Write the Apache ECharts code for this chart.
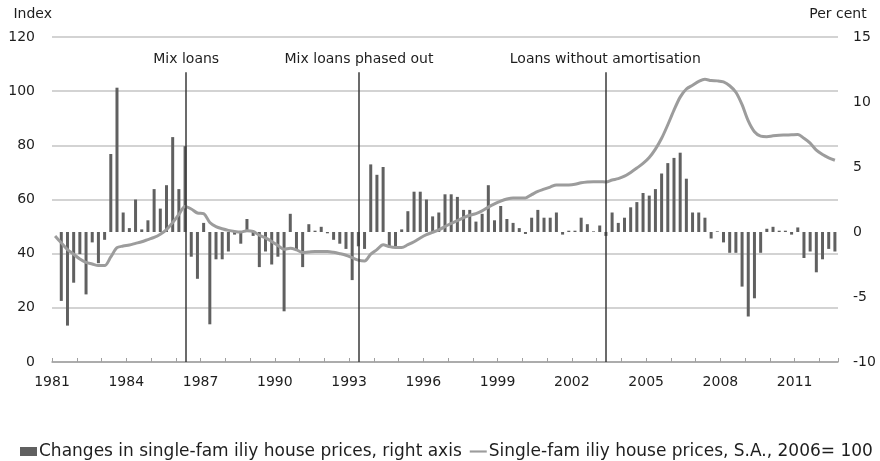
<!DOCTYPE html>
<html>
<head>
<meta charset="utf-8">
<style>
  html, body { margin: 0; padding: 0; background: #fff; }
  #chart { width: 880px; height: 461px; }
</style>
<script src="https://cdn.jsdelivr.net/npm/echarts@6/dist/echarts.min.js"></script>
</head>
<body>
<div id="chart"></div>
<script>
// quarterly data, 1981Q1 .. 2012Q3
const startYear = 1981
const quarterCount = 127
const quarters = []
for (let i = 0; i < quarterCount; i++) {
    quarters.push((startYear + Math.floor(i / 4)) + 'Q' + (i % 4 + 1))
}

// Single-family house prices, S.A., 2006 = 100 (left axis)
const priceIndex = [
    46.5, 44.0, 41.5, 39.8,   // 1981
    38.0, 36.8, 36.2, 35.6,   // 1982
    35.6, 38.8, 42.2, 42.8,   // 1983
    43.2, 43.8, 44.4, 45.2,   // 1984
    46.0, 47.2, 48.9, 51.5,   // 1985
    54.5, 57.4, 56.5, 55.0,   // 1986
    54.8, 51.5, 50.0, 49.2,   // 1987
    48.6, 48.2, 48.0, 48.5,   // 1988
    48.2, 46.8, 45.8, 44.5,   // 1989
    43.0, 41.6, 42.0, 41.4,   // 1990
    40.4, 40.6, 40.8, 40.8,   // 1991
    40.8, 40.5, 40.0, 39.4,   // 1992
    38.5, 37.6, 37.3, 39.8,   // 1993
    41.5, 43.3, 42.6, 42.3,   // 1994
    42.3, 43.3, 44.4, 45.8,   // 1995
    47.0, 47.9, 48.8, 50.0,   // 1996
    51.2, 52.2, 53.3, 54.2,   // 1997
    54.8, 55.8, 57.2, 58.4,   // 1998
    59.4, 60.2, 60.6, 60.6,   // 1999
    60.6, 61.8, 63.0, 63.8,   // 2000
    64.6, 65.4, 65.4, 65.4,   // 2001
    65.6, 66.2, 66.5, 66.6,   // 2002
    66.6, 66.5, 67.2, 67.7,   // 2003
    68.6, 70.0, 71.6, 73.3,   // 2004
    75.5, 78.6, 82.6, 87.6,   // 2005
    93.0, 97.8, 100.8, 102.2, // 2006
    103.6, 104.4, 103.9, 103.8, // 2007
    103.4, 102.0, 99.6, 95.0, // 2008
    89.0, 85.0, 83.4, 83.2,   // 2009
    83.5, 83.7, 83.8, 83.9,   // 2010
    84.0, 82.6, 80.8, 78.2,   // 2011
    76.6, 75.4, 74.5          // 2012
]

// Changes in single-family house prices, per cent (right axis)
const priceChange = [
    null, -5.3, -7.2, -3.9,   // 1981
    -1.7, -4.8, -0.8, -2.4,   // 1982
    -0.6, 6.0, 11.1, 1.5,     // 1983
    0.3, 2.5, 0.2, 0.9,       // 1984
    3.3, 1.8, 3.6, 7.3,       // 1985
    3.3, 6.6, -1.9, -3.6,     // 1986
    0.7, -7.1, -2.1, -2.1,    // 1987
    -1.5, -0.2, -0.9, 1.0,    // 1988
    -0.3, -2.7, -1.5, -2.5,   // 1989
    -1.9, -6.1, 1.4, -1.4,    // 1990
    -2.7, 0.6, 0.1, 0.4,      // 1991
    -0.1, -0.6, -0.9, -1.3,   // 1992
    -3.7, -1.1, -1.3, 5.2,    // 1993
    4.4, 5.0, -1.2, -1.2,     // 1994
    0.2, 1.6, 3.1, 3.1,       // 1995
    2.5, 1.2, 1.5, 2.9,       // 1996
    2.9, 2.7, 1.7, 1.7,       // 1997
    0.8, 1.4, 3.6, 0.9,       // 1998
    2.0, 1.0, 0.7, 0.3,       // 1999
    -0.15, 1.1, 1.7, 1.1,     // 2000
    1.1, 1.5, -0.2, 0.1,      // 2001
    0.1, 1.1, 0.6, 0.05,      // 2002
    0.5, -0.3, 1.5, 0.7,      // 2003
    1.1, 1.9, 2.3, 3.0,       // 2004
    2.8, 3.3, 4.5, 5.3,       // 2005
    5.7, 6.1, 4.1, 1.5,       // 2006
    1.5, 1.1, -0.5, 0.05,     // 2007
    -0.8, -1.6, -1.6, -4.2,   // 2008
    -6.5, -5.1, -1.6, 0.25,   // 2009
    0.4, 0.1, 0.1, -0.2,      // 2010
    0.35, -2.0, -1.5, -3.1,   // 2011
    -2.1, -1.3, -1.5          // 2012
]

const xTickLabels = [1981, 1984, 1987, 1990, 1993, 1996, 1999, 2002, 2005, 2008, 2011]
const leftTicks = [0, 20, 40, 60, 80, 100, 120]
const rightTicks = [-10, -5, 0, 5, 10, 15]

// policy events (decimal year)
const events = [
    { name: 'Mix loans', date: 1986.42 },
    { name: 'Mix loans phased out', date: 1993.4 },
    { name: 'Loans without amortisation', date: 2003.35 }
]
const eventLineTop = 107

const barName = 'Changes in single-fam iliy house prices, right axis'
const lineName = 'Single-fam iliy house prices, S.A., 2006= 100'

// quarter label -> middle of the quarter as decimal year
function quarterTime(q) {
    let y = parseInt(q.slice(0, 4))
    let n = parseInt(q.slice(5))
    return y + (n - 0.5) / 4
}

const font = 'DejaVu Sans'
const textColor = '#1e1e1e'

let myChart = echarts.init(document.getElementById('chart'))
let option = {
    animation: false,
    grid: {
        left: 52,
        right: 42,
        top: 37,
        bottom: 99
    },
    legend: {
        left: 15,
        top: 438,
        width: 870,
        itemGap: 8,
        itemWidth: 17,
        itemHeight: 9,
        textStyle: {
            fontFamily: font,
            fontSize: 17,
            color: textColor,
            padding: [0, 0, 0, -3]
        },
        data: [
            { name: barName, icon: 'rect' },
            { name: lineName, icon: 'path://M0,0 L16,0 L16,2 L0,2 Z' }
        ]
    },
    xAxis: {
        type: 'value',
        min: 1981,
        max: 2012.75,
        interval: 1,
        axisLine: { lineStyle: { color: '#a0a0a0', width: 1.5 } },
        axisTick: { inside: true, length: 4, lineStyle: { color: '#a0a0a0', width: 1 } },
        splitLine: { show: false },
        axisLabel: {
            margin: 13,
            fontFamily: font,
            fontSize: 14,
            color: textColor,
            formatter: function (v) {
                return xTickLabels.indexOf(v) >= 0 ? String(v) : ''
            }
        }
    },
    yAxis: [{
        type: 'value',
        min: leftTicks[0],
        max: leftTicks[leftTicks.length - 1],
        interval: 20,
        name: 'Index',
        nameGap: 16,
        nameTextStyle: { fontFamily: font, fontSize: 14, color: textColor, align: 'right' },
        axisLine: { show: false },
        axisTick: { show: false },
        axisLabel: { margin: 17, fontFamily: font, fontSize: 14, color: textColor },
        splitLine: { lineStyle: { color: '#c4c4c4', width: 1.5 } }
    }, {
        type: 'value',
        position: 'right',
        min: rightTicks[0],
        max: rightTicks[rightTicks.length - 1],
        interval: 5,
        name: 'Per cent',
        nameGap: 16,
        nameTextStyle: { fontFamily: font, fontSize: 14, color: textColor, align: 'center' },
        axisLine: { show: false },
        axisTick: { show: false },
        axisLabel: { margin: 15, fontFamily: font, fontSize: 14, color: textColor },
        splitLine: { show: false }
    }],
    series: [{
        name: barName,
        type: 'bar',
        yAxisIndex: 1,
        barWidth: 3,
        z: 2,
        itemStyle: { color: '#606060' },
        data: quarters.map((q, i) => [quarterTime(q), priceChange[i]])
    }, {
        name: lineName,
        type: 'line',
        yAxisIndex: 0,
        z: 3,
        symbol: 'none',
        smooth: 0.3,
        lineStyle: { color: '#9c9c9c', width: 3 },
        itemStyle: { color: '#9c9c9c' },
        data: quarters.map((q, i) => [quarterTime(q), priceIndex[i]]),
        markLine: {
            silent: true,
            symbol: 'none',
            lineStyle: { color: '#3a3a3a', width: 1.5, type: 'solid' },
            label: {
                show: true,
                position: 'end',
                distance: 6,
                fontFamily: font,
                fontSize: 14,
                color: textColor,
                formatter: '{b}'
            },
            data: events.map(e => [
                { name: e.name, coord: [e.date, 0] },
                { coord: [e.date, eventLineTop] }
            ])
        }
    }]
}
myChart.setOption(option)
window.addEventListener('resize', function () {
    myChart.resize()
})
</script>
</body>
</html>
